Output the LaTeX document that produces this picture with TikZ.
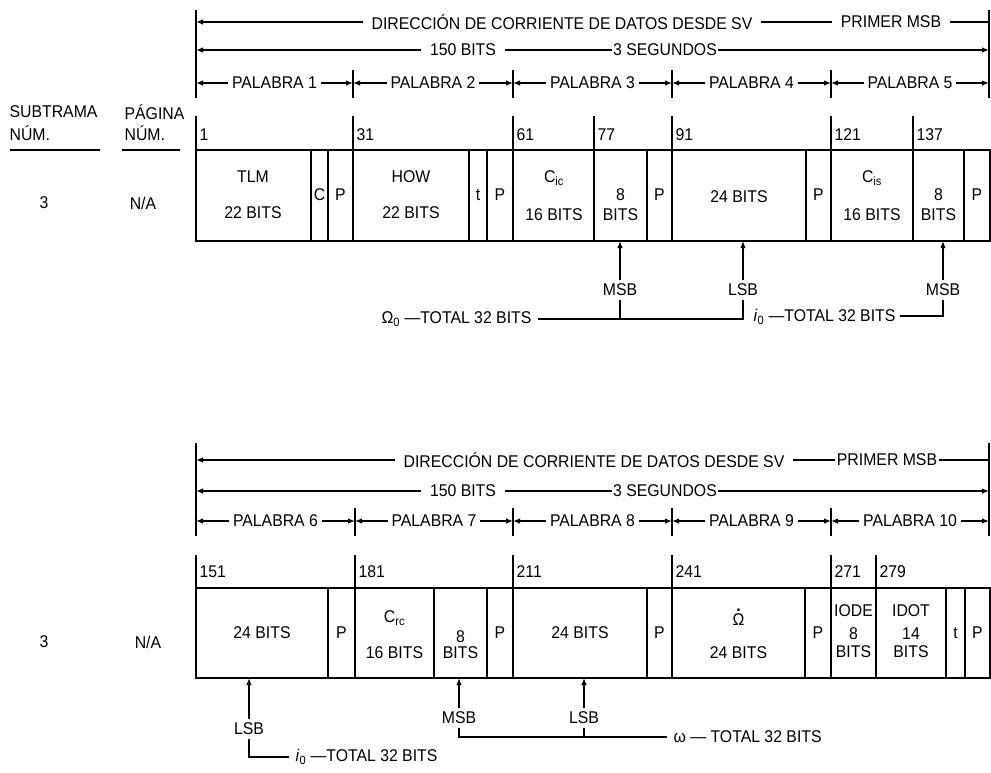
\documentclass[tikz,border=0pt]{standalone}
\usepackage{fontspec}
\setmainfont{Liberation Sans}[FakeStretch=0.93]
\usetikzlibrary{arrows.meta}
\newcommand{\fs}{\fontsize{17}{17}\selectfont}
\newcommand{\dotOmega}{\ooalign{\hfil\raisebox{0.82em}{\textbf{.}}\hfil\cr Ω\cr}}
\begin{document}
\begin{tikzpicture}[x=1pt,y=-1pt,line width=1.3pt,
  every node/.style={font=\fs,inner sep=1pt},
  hdr/.style={inner xsep=8pt},
  wrd/.style={inner xsep=3pt},
  lbl/.style={inner sep=3pt},
  num/.style={anchor=west,inner sep=1pt},
  arr/.style={-{Latex[length=7pt,width=5.5pt]}}]
\useasboundingbox (0,0) rectangle (991,772);

% ================= TOP SECTION =================
\draw (196,10) -- (196,98);
\draw (989,10) -- (989,98);
\foreach \x in {353,513,672,831} \draw (\x,70) -- (\x,98);

\node[hdr] (dA) at (562,22) {DIRECCIÓN DE CORRIENTE DE DATOS DESDE SV};
\node[hdr] (mA) at (891,22) {PRIMER MSB};
\coordinate (dAl) at (196,22); \coordinate (dAr) at (989,22);
\draw[arr] (dA) -- (dAl);
\draw (dA) -- (mA);
\draw (mA) -- (dAr);

\node[hdr] (bA) at (463,50) {150 BITS};
\node[hdr,inner xsep=1pt] (sA) at (665,50) {3 SEGUNDOS};
\coordinate (bAl) at (196,50); \coordinate (sAr) at (989,50);
\draw[arr] (bA) -- (bAl);
\draw (bA) -- (sA);
\draw[arr] (sA) -- (sAr);

\coordinate (wA0) at (196,83); \coordinate (wA1) at (353,83);
\coordinate (wA2) at (513,83); \coordinate (wA3) at (672,83);
\coordinate (wA4) at (831,83); \coordinate (wA5) at (989,83);
\node[wrd] (pA1) at (274.5,83) {PALABRA 1};
\node[wrd] (pA2) at (433,83) {PALABRA 2};
\node[wrd] (pA3) at (592.5,83) {PALABRA 3};
\node[wrd] (pA4) at (751.5,83) {PALABRA 4};
\node[wrd] (pA5) at (910,83) {PALABRA 5};
\draw[arr] (pA1) -- (wA0); \draw[arr] (pA1) -- (wA1);
\draw[arr] (pA2) -- (wA1); \draw[arr] (pA2) -- (wA2);
\draw[arr] (pA3) -- (wA2); \draw[arr] (pA3) -- (wA3);
\draw[arr] (pA4) -- (wA3); \draw[arr] (pA4) -- (wA4);
\draw[arr] (pA5) -- (wA4); \draw[arr] (pA5) -- (wA5);

% left labels
\node[num] (sub1) at (8,112) {SUBTRAMA};
\node[num] (sub2) at (8,133) {NÚM.};
\node[num] (pag1) at (123,112) {PÁGINA};
\node[num] (pag2) at (123,133) {NÚM.};
\draw (10,150) -- (100,150);
\draw (122,150) -- (180,150);
\node (subA) at (44,203) {3};
\node (pagA) at (143,203) {N/A};

% bit numbers
\foreach \x/\n in {196/1,353/31,513/61,594/77,672/91,831/121,913/137}{
  \draw (\x,116) -- (\x,150);
  \node[num] (nA\n) at (\x+2,135) {\n};
}

% frame
\draw (196,150) rectangle (990,241);
\foreach \x in {311,328,353,469,487,513,594,647,672,806,831,913,964}
  \draw (\x,150) -- (\x,241);

\node (tlm) at (253,177) {TLM};
\node (tlmb) at (253,213) {22 BITS};
\node (cA) at (319.5,195) {C};
\node (pA1c) at (340.5,195) {P};
\node (how) at (411,177) {HOW};
\node (howb) at (411,213) {22 BITS};
\node (tA) at (478,195) {t};
\node (pA2c) at (500,195) {P};
\node (cic) at (554,178) {C\textsubscript{ic}};
\node (cicb) at (554,215) {16 BITS};
\node (eA1) at (620.5,195) {8};
\node (eA1b) at (620.5,215) {BITS};
\node (pA3c) at (659.5,195) {P};
\node (tfA) at (739,197) {24 BITS};
\node (pA4c) at (818.5,195) {P};
\node (cis) at (872,178) {C\textsubscript{is}};
\node (cisb) at (872,215) {16 BITS};
\node (eA2) at (938.5,195) {8};
\node (eA2b) at (938.5,215) {BITS};
\node (pA5c) at (977,195) {P};

% annotations under top frame
\node[lbl] (msb1) at (620,290) {MSB};
\node[lbl] (lsb1) at (743,290) {LSB};
\node[lbl] (msb2) at (943,290) {MSB};
\coordinate (fm1) at (620,241); \coordinate (fl1) at (743,241); \coordinate (fm2) at (943,241);
\draw[arr] (msb1) -- (fm1);
\draw[arr] (lsb1) -- (fl1);
\draw[arr] (msb2) -- (fm2);
\node[anchor=east,inner xsep=6pt] (om0) at (538,319) {Ω\textsubscript{0} —TOTAL 32 BITS};
\coordinate (bk1) at (620,319); \coordinate (bk2) at (743,319);
\draw (om0.east) -- (bk2) -- (lsb1.south);
\draw (msb1.south) -- (bk1);
\node[anchor=west,inner xsep=4pt] (i0a) at (749,317) {\textit{i}\textsubscript{0} —TOTAL 32 BITS};
\coordinate (bk3) at (943,316);
\draw (i0a.east |- bk3) -- (bk3) -- (msb2.south);

% ================= BOTTOM SECTION =================
\draw (196,443) -- (196,536);
\draw (989,443) -- (989,536);
\foreach \x in {355,513,672,831} \draw (\x,508) -- (\x,536);

\node[hdr] (dB) at (594,460) {DIRECCIÓN DE CORRIENTE DE DATOS DESDE SV};
\node[hdr,inner xsep=1pt] (mB) at (887,460) {PRIMER MSB};
\coordinate (dBl) at (196,460); \coordinate (dBr) at (989,460);
\draw[arr] (dB) -- (dBl);
\draw (dB) -- (mB);
\draw (mB) -- (dBr);

\node[hdr] (bB) at (463,491) {150 BITS};
\node[hdr,inner xsep=1pt] (sB) at (665,491) {3 SEGUNDOS};
\coordinate (bBl) at (196,491); \coordinate (sBr) at (989,491);
\draw[arr] (bB) -- (bBl);
\draw (bB) -- (sB);
\draw[arr] (sB) -- (sBr);

\coordinate (wB0) at (196,521); \coordinate (wB1) at (355,521);
\coordinate (wB2) at (513,521); \coordinate (wB3) at (672,521);
\coordinate (wB4) at (831,521); \coordinate (wB5) at (989,521);
\node[wrd] (pB1) at (275.5,521) {PALABRA 6};
\node[wrd] (pB2) at (434,521) {PALABRA 7};
\node[wrd] (pB3) at (592.5,521) {PALABRA 8};
\node[wrd] (pB4) at (751.5,521) {PALABRA 9};
\node[wrd] (pB5) at (910,521) {PALABRA 10};
\draw[arr] (pB1) -- (wB0); \draw[arr] (pB1) -- (wB1);
\draw[arr] (pB2) -- (wB1); \draw[arr] (pB2) -- (wB2);
\draw[arr] (pB3) -- (wB2); \draw[arr] (pB3) -- (wB3);
\draw[arr] (pB4) -- (wB3); \draw[arr] (pB4) -- (wB4);
\draw[arr] (pB5) -- (wB4); \draw[arr] (pB5) -- (wB5);

\node (subB) at (44,642) {3};
\node (pagB) at (148,642) {N/A};

\foreach \x/\n in {196/151,355/181,513/211,672/241,831/271,876/279}{
  \draw (\x,555) -- (\x,588);
  \node[num] (nB\n) at (\x+2,572) {\n};
}

\draw (196,588) rectangle (990,678);
\foreach \x in {328,355,434,487,513,647,672,805,831,876,946,965}
  \draw (\x,588) -- (\x,678);

\node (tfB1) at (262,633) {24 BITS};
\node (pB1c) at (341.5,633) {P};
\node (crc) at (394.5,618) {C\textsubscript{rc}};
\node (crcb) at (394.5,653) {16 BITS};
\node (eB1) at (460.5,637) {8};
\node (eB1b) at (460.5,653) {BITS};
\node (pB2c) at (500,633) {P};
\node (tfB2) at (580,633) {24 BITS};
\node (pB3c) at (659.5,633) {P};
\node (omd) at (738.5,617) {\dotOmega};
\node (omdb) at (738.5,653) {24 BITS};
\node (pB4c) at (818,633) {P};
\node (iode) at (853.5,611) {IODE};
\node (iode8) at (853.5,634) {8};
\node (iodeb) at (853.5,652) {BITS};
\node (idot) at (911,611) {IDOT};
\node (idot14) at (911,634) {14};
\node (idotb) at (911,652) {BITS};
\node (tB) at (955.5,633) {t};
\node (pB5c) at (977.5,633) {P};

% annotations under bottom frame
\node[lbl] (lsb3) at (249,729) {LSB};
\node[lbl] (msb4) at (459,718) {MSB};
\node[lbl] (lsb4) at (584,718) {LSB};
\coordinate (fl3) at (249,678); \coordinate (fm4) at (459,678); \coordinate (fl4) at (584,678);
\draw[arr] (lsb3) -- (fl3);
\draw[arr] (msb4) -- (fm4);
\draw[arr] (lsb4) -- (fl4);
\node[anchor=west,inner xsep=6pt] (i0b) at (289,757) {\textit{i}\textsubscript{0} —TOTAL 32 BITS};
\coordinate (bk4) at (249,757);
\draw (lsb3.south) -- (bk4) -- (i0b.west);
\node[anchor=west,inner xsep=6pt] (omg) at (667,737) {ω — TOTAL 32 BITS};
\coordinate (bk5) at (459,737); \coordinate (bk6) at (584,737);
\draw (msb4.south) -- (bk5) -- (omg.west);
\draw (lsb4.south) -- (bk6);
\end{tikzpicture}
\end{document}
